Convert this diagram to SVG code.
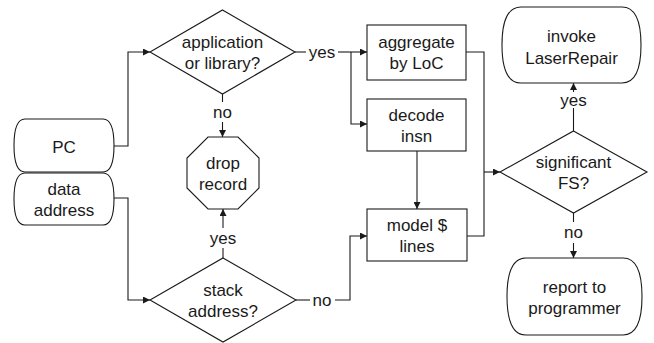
<svg xmlns="http://www.w3.org/2000/svg" width="654" height="343" viewBox="0 0 654 343">
<style>
.s{fill:#fff;stroke:#1a1a1a;stroke-width:1.1}
.t{font-family:"Liberation Sans",Arial,sans-serif;font-size:17px;fill:#1a1a1a;text-anchor:middle}
.c{fill:none;stroke:#1a1a1a;stroke-width:1.1}
</style>
<defs>
<marker id="a" viewBox="0 0 10 10" refX="10" refY="5" markerWidth="9" markerHeight="7" markerUnits="userSpaceOnUse" orient="auto">
<path d="M0,0 L10,5 L0,10 Z" fill="#1a1a1a"/>
</marker>
</defs>
<g id="connectors">
<path class="c" d="M114,146 H128 V52 H150" marker-end="url(#a)"/>
<path class="c" d="M114,198 H128 V300 H150" marker-end="url(#a)"/>
<path class="c" d="M222.5,94 V102"/>
<path class="c" d="M222.5,122 V137" marker-end="url(#a)"/>
<path class="c" d="M295,52 H306"/>
<path class="c" d="M338,52 H367" marker-end="url(#a)"/>
<path class="c" d="M351,52 V124 H367" marker-end="url(#a)"/>
<path class="c" d="M417,151 V209" marker-end="url(#a)"/>
<path class="c" d="M223,258 V248"/>
<path class="c" d="M223,228 V209" marker-end="url(#a)"/>
<path class="c" d="M296,300 H310"/>
<path class="c" d="M335,300 H350 V236 H367" marker-end="url(#a)"/>
<path class="c" d="M466,52 H484 V236 H467"/>
<path class="c" d="M484,172 H500" marker-end="url(#a)"/>
<path class="c" d="M573.5,131 V108"/>
<path class="c" d="M573.5,92 V83" marker-end="url(#a)"/>
<path class="c" d="M573.5,213 V222"/>
<path class="c" d="M573.5,243 V258" marker-end="url(#a)"/>
<text class="t" x="322" y="58">yes</text>
<text class="t" x="222.5" y="118">no</text>
<text class="t" x="223" y="244">yes</text>
<text class="t" x="322" y="306">no</text>
<text class="t" x="573.5" y="106">yes</text>
<text class="t" x="573.5" y="238">no</text>
</g>
<g id="pc">
<path class="s" d="M25,119 H103 Q114,119 114,145.5 Q114,172 103,172 H25 Q14,172 14,145.5 Q14,119 25,119 Z"/>
<text class="t" x="64" y="153">PC</text>
</g>
<g id="data-address">
<path class="s" d="M25,173 H103 Q114,173 114,199 Q114,225 103,225 H25 Q14,225 14,199 Q14,173 25,173 Z"/>
<text class="t" x="64" y="194.5">data</text>
<text class="t" x="64" y="215.5">address</text>
</g>
<g id="app-or-lib">
<path class="s" d="M222.5,10 L295,52 L222.5,94 L150,52 Z"/>
<text class="t" x="222.5" y="47.5">application</text>
<text class="t" x="222.5" y="68.5">or library?</text>
</g>
<g id="drop-record">
<path class="s" d="M208,137 H238 L259,158 V188 L238,209 H208 L187,188 V158 Z"/>
<text class="t" x="223" y="168.5">drop</text>
<text class="t" x="223" y="189.5">record</text>
</g>
<g id="stack-address">
<path class="s" d="M223,258 L296,300 L223,342 L150,300 Z"/>
<text class="t" x="223" y="295.5">stack</text>
<text class="t" x="223" y="316.5">address?</text>
</g>
<g id="aggregate">
<rect class="s" x="367" y="25" width="99" height="55"/>
<text class="t" x="416.5" y="48">aggregate</text>
<text class="t" x="416.5" y="69">by LoC</text>
</g>
<g id="decode">
<rect class="s" x="367" y="99" width="99" height="52"/>
<text class="t" x="416.5" y="120.5">decode</text>
<text class="t" x="416.5" y="141.5">insn</text>
</g>
<g id="model">
<rect class="s" x="367" y="209" width="100" height="52"/>
<text class="t" x="417" y="230.5">model $</text>
<text class="t" x="417" y="251.5">lines</text>
</g>
<g id="significant">
<path class="s" d="M573.5,131 L647,172 L573.5,213 L500,172 Z"/>
<text class="t" x="573.5" y="167.5">significant</text>
<text class="t" x="573.5" y="188.5">FS?</text>
</g>
<g id="invoke">
<path class="s" d="M521,7 H622 Q641,7 641,45 Q641,83 622,83 H521 Q502,83 502,45 Q502,7 521,7 Z"/>
<text class="t" x="571.5" y="41.5">invoke</text>
<text class="t" x="571.5" y="63.5">LaserRepair</text>
</g>
<g id="report">
<path class="s" d="M526,258 H623 Q642,258 642,296.5 Q642,335 623,335 H526 Q507,335 507,296.5 Q507,258 526,258 Z"/>
<text class="t" x="574.5" y="292.5">report to</text>
<text class="t" x="574.5" y="313.5">programmer</text>
</g>
</svg>
